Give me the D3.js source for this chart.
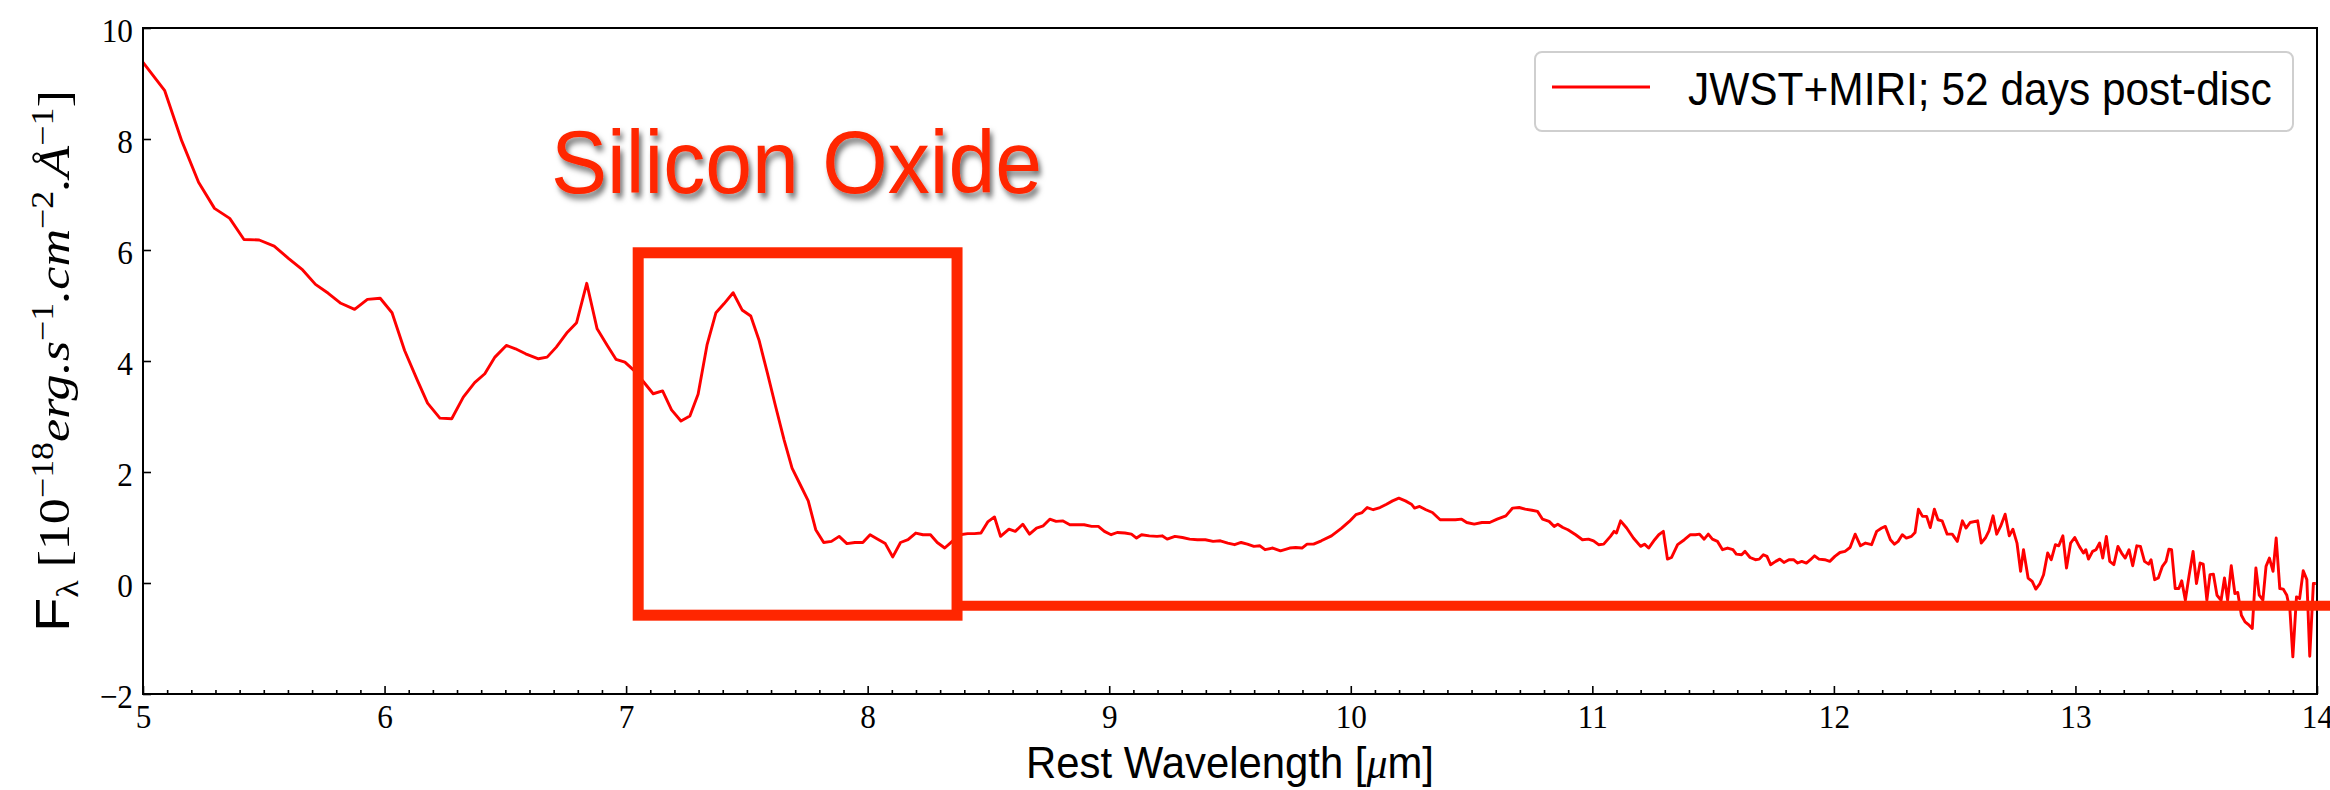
<!DOCTYPE html>
<html>
<head>
<meta charset="utf-8">
<script src="https://cdn.jsdelivr.net/npm/d3@7"></script>
<style>
  html, body { margin: 0; padding: 0; background: #fff; }
  svg { display: block; }
</style>
</head>
<body>
<svg id="chart" width="2330" height="790"></svg>
<script>
// MIRI spectrum, rest wavelength in micron and flux in 1e-18 erg/s/cm^2/A
const wavelength = [
  5.000, 5.090, 5.160, 5.230, 5.296, 5.359, 5.418, 5.481, 5.543, 5.602,
  5.661, 5.714, 5.767, 5.819, 5.876, 5.929, 5.982, 6.031, 6.083, 6.136,
  6.178, 6.229, 6.278, 6.326, 6.373, 6.415, 6.457, 6.504, 6.542, 6.584,
  6.637, 6.673, 6.711, 6.757, 6.795, 6.837, 6.880, 6.922, 6.958, 6.995,
  7.030, 7.071, 7.112, 7.151, 7.188, 7.227, 7.264, 7.298, 7.335, 7.372,
  7.405, 7.443, 7.480, 7.516, 7.550, 7.585, 7.619, 7.654, 7.687, 7.721,
  7.754, 7.785, 7.818, 7.850, 7.882, 7.914, 7.947, 7.980, 8.010, 8.042,
  8.073, 8.104, 8.136, 8.167, 8.199, 8.229, 8.260, 8.288, 8.319, 8.350,
  8.382, 8.414, 8.442, 8.469, 8.497, 8.525, 8.550, 8.585, 8.611, 8.642,
  8.670, 8.699, 8.727, 8.754, 8.780, 8.807, 8.837, 8.864, 8.896, 8.927,
  8.955, 8.980, 9.008, 9.033, 9.065, 9.092, 9.113, 9.134, 9.166, 9.198,
  9.219, 9.240, 9.272, 9.303, 9.333, 9.365, 9.398, 9.430, 9.460, 9.491,
  9.519, 9.546, 9.572, 9.599, 9.624, 9.645, 9.677, 9.709, 9.747, 9.772,
  9.798, 9.819, 9.846, 9.878, 9.920, 9.962, 9.994, 10.021, 10.047, 10.068,
  10.093, 10.121, 10.148, 10.173, 10.199, 10.226, 10.251, 10.264, 10.285, 10.311,
  10.338, 10.370, 10.402, 10.433, 10.459, 10.480, 10.511, 10.543, 10.575, 10.606,
  10.642, 10.670, 10.697, 10.722, 10.750, 10.773, 10.794, 10.821, 10.842, 10.857,
  10.878, 10.899, 10.931, 10.959, 10.984, 11.005, 11.026, 11.047, 11.075, 11.090,
  11.100, 11.117, 11.142, 11.170, 11.200, 11.216, 11.233, 11.258, 11.275, 11.294,
  11.311, 11.328, 11.353, 11.381, 11.406, 11.427, 11.444, 11.463, 11.480, 11.497,
  11.518, 11.539, 11.560, 11.582, 11.596, 11.618, 11.632, 11.653, 11.675, 11.691,
  11.708, 11.723, 11.738, 11.759, 11.776, 11.793, 11.814, 11.833, 11.850, 11.867,
  11.886, 11.903, 11.920, 11.938, 11.962, 11.983, 12.004, 12.025, 12.046, 12.067,
  12.088, 12.110, 12.131, 12.156, 12.177, 12.198, 12.213, 12.234, 12.251, 12.266,
  12.283, 12.300, 12.321, 12.336, 12.350, 12.367, 12.384, 12.399, 12.416, 12.431,
  12.448, 12.469, 12.490, 12.511, 12.532, 12.547, 12.564, 12.595, 12.610, 12.627,
  12.642, 12.659, 12.674, 12.690, 12.709, 12.726, 12.741, 12.758, 12.773, 12.785,
  12.804, 12.821, 12.836, 12.853, 12.868, 12.885, 12.900, 12.917, 12.931, 12.948,
  12.963, 12.980, 12.997, 13.016, 13.033, 13.043, 13.054, 13.071, 13.085, 13.100,
  13.113, 13.128, 13.142, 13.159, 13.176, 13.191, 13.206, 13.222, 13.237, 13.254,
  13.269, 13.286, 13.303, 13.313, 13.328, 13.343, 13.360, 13.375, 13.387, 13.398,
  13.413, 13.428, 13.440, 13.455, 13.470, 13.487, 13.501, 13.516, 13.529, 13.544,
  13.557, 13.571, 13.586, 13.603, 13.617, 13.630, 13.645, 13.660, 13.672, 13.687,
  13.702, 13.719, 13.732, 13.747, 13.761, 13.776, 13.789, 13.803, 13.818, 13.831,
  13.846, 13.860, 13.875, 13.888, 13.900, 13.915, 13.928, 13.943, 13.958, 13.970,
  13.985, 13.995
];

const flux = [
  9.38, 8.87, 7.97, 7.22, 6.75, 6.57, 6.19, 6.18, 6.07, 5.85,
  5.64, 5.38, 5.22, 5.04, 4.93, 5.11, 5.13, 4.87, 4.19, 3.65,
  3.24, 2.97, 2.96, 3.35, 3.61, 3.77, 4.07, 4.28, 4.22, 4.13,
  4.04, 4.07, 4.25, 4.52, 4.69, 5.40, 4.58, 4.28, 4.03, 3.98,
  3.84, 3.63, 3.41, 3.46, 3.12, 2.92, 3.01, 3.40, 4.29, 4.87,
  5.03, 5.23, 4.92, 4.81, 4.38, 3.78, 3.18, 2.58, 2.07, 1.77,
  1.48, 0.96, 0.73, 0.75, 0.84, 0.71, 0.73, 0.73, 0.87, 0.79,
  0.71, 0.47, 0.73, 0.78, 0.90, 0.87, 0.87, 0.73, 0.63, 0.75,
  0.87, 0.89, 0.89, 0.90, 1.10, 1.19, 0.84, 0.97, 0.93, 1.06,
  0.88, 0.99, 1.03, 1.15, 1.11, 1.12, 1.05, 1.05, 1.05, 1.02,
  1.02, 0.93, 0.87, 0.91, 0.90, 0.88, 0.81, 0.87, 0.85, 0.84,
  0.85, 0.79, 0.84, 0.82, 0.79, 0.78, 0.78, 0.75, 0.76, 0.72,
  0.69, 0.73, 0.70, 0.66, 0.67, 0.60, 0.63, 0.58, 0.63, 0.64,
  0.63, 0.70, 0.70, 0.76, 0.85, 0.99, 1.11, 1.23, 1.27, 1.36,
  1.32, 1.36, 1.42, 1.48, 1.53, 1.48, 1.42, 1.35, 1.38, 1.32,
  1.27, 1.14, 1.14, 1.14, 1.15, 1.09, 1.06, 1.09, 1.09, 1.15,
  1.21, 1.35, 1.36, 1.33, 1.31, 1.29, 1.15, 1.11, 1.02, 1.06,
  1.00, 0.96, 0.87, 0.78, 0.79, 0.76, 0.69, 0.70, 0.84, 0.93,
  0.90, 1.12, 0.99, 0.81, 0.66, 0.70, 0.63, 0.78, 0.87, 0.93,
  0.43, 0.46, 0.69, 0.78, 0.87, 0.87, 0.88, 0.79, 0.88, 0.79,
  0.75, 0.60, 0.63, 0.60, 0.52, 0.51, 0.57, 0.46, 0.42, 0.43,
  0.51, 0.48, 0.33, 0.39, 0.43, 0.37, 0.42, 0.42, 0.36, 0.39,
  0.36, 0.42, 0.49, 0.43, 0.42, 0.39, 0.48, 0.55, 0.57, 0.64,
  0.88, 0.67, 0.72, 0.69, 0.93, 0.99, 1.02, 0.78, 0.70, 0.75,
  0.87, 0.81, 0.84, 0.91, 1.33, 1.20, 1.20, 1.00, 1.33, 1.14,
  1.12, 0.88, 0.88, 0.75, 1.12, 0.99, 1.09, 1.12, 0.72, 0.81,
  0.94, 1.21, 0.88, 1.02, 1.24, 0.85, 0.97, 0.72, 0.21, 0.60,
  0.09, 0.03, -0.11, -0.01, 0.15, 0.54, 0.42, 0.69, 0.67, 0.85,
  0.27, 0.72, 0.82, 0.66, 0.54, 0.60, 0.43, 0.57, 0.60, 0.72,
  0.45, 0.84, 0.39, 0.33, 0.66, 0.54, 0.45, 0.60, 0.31, 0.67,
  0.66, 0.39, 0.34, 0.42, 0.06, 0.09, 0.30, 0.39, 0.61, 0.60,
  -0.10, -0.10, 0.04, -0.31, 0.12, 0.57, -0.01, 0.36, 0.34, -0.31,
  0.15, 0.16, -0.22, -0.31, 0.09, -0.31, 0.31, -0.19, -0.17, -0.58,
  -0.70, -0.76, -0.82, 0.27, -0.22, -0.31, 0.30, 0.45, 0.21, 0.81,
  -0.10, -0.11, -0.22, -0.49, -1.33, -0.25, -0.28, 0.22, 0.06, -1.32,
  -0.01, -0.01
];

const xTickValues = [5, 6, 7, 8, 9, 10, 11, 12, 13, 14];
const yTickValues = [-2, 0, 2, 4, 6, 8, 10];
const seriesLabel = "JWST+MIRI; 52 days post-disc";
const featureLabel = "Silicon Oxide";
// highlighted feature region (wavelength, flux) and the baseline marker level
const featureBoxWave = [7.05, 8.37];
const featureBoxFlux = [-0.58, 5.95];
const calloutFlux = -0.41;

const W = 2330, H = 790;
const plot = { left: 143, right: 2317, top: 28, bottom: 694 };
const SERIF = "'Liberation Serif', 'DejaVu Serif', serif";
const SANS = "'Liberation Sans', Arial, sans-serif";
const LINE_RED = "#ff0000";
const NOTE_RED = "#ff2600";
const SQUEEZE = 0.92;

const svg = d3.select("#chart");

const x = d3.scaleLinear().domain([5, 14]).range([plot.left, plot.right]);
const y = d3.scaleLinear().domain([-2, 10]).range([plot.bottom, plot.top]);

// drop shadow for the feature label
const defs = svg.append("defs");
const shadow = defs.append("filter").attr("id", "soft-shadow")
  .attr("x", "-10%").attr("y", "-20%").attr("width", "130%").attr("height", "150%");
shadow.append("feDropShadow")
  .attr("dx", 3).attr("dy", 5).attr("stdDeviation", 3)
  .attr("flood-color", "#000").attr("flood-opacity", 0.55);

// spectrum
const idx = d3.range(wavelength.length);
const line = d3.line()
  .x(i => x(wavelength[i]))
  .y(i => y(flux[i]));

svg.append("path")
  .datum(idx)
  .attr("d", line)
  .attr("fill", "none")
  .attr("stroke", LINE_RED)
  .attr("stroke-width", 2.9)
  .attr("stroke-linejoin", "round");

// axes: ticks point into the plot
const xMajor = svg.append("g")
  .attr("transform", `translate(0,${plot.bottom})`)
  .call(d3.axisBottom(x).tickValues(xTickValues).tickSize(-8).tickFormat(d3.format("d")));

const minorValues = d3.range(50, 141).filter(v => v % 10 !== 0).map(v => v / 10);
const xMinor = svg.append("g")
  .attr("transform", `translate(0,${plot.bottom})`)
  .call(d3.axisBottom(x).tickValues(minorValues).tickSize(-4).tickFormat(""));

const yMajor = svg.append("g")
  .attr("transform", `translate(${plot.left},0)`)
  .call(d3.axisLeft(y).tickValues(yTickValues).tickSize(-8).tickFormat(d3.format("d")));

[xMajor, xMinor, yMajor].forEach(g => {
  g.select(".domain").remove();
  g.selectAll(".tick line").attr("stroke", "#000").attr("stroke-width", 1.6);
});

xMajor.selectAll(".tick text")
  .attr("y", 0).attr("dy", 34)
  .attr("transform", `scale(${SQUEEZE},1)`)
  .attr("fill", "#000")
  .style("font-family", SERIF).style("font-size", "34px");

yMajor.selectAll(".tick text")
  .attr("x", -10 / SQUEEZE).attr("dy", 13)
  .attr("transform", `scale(${SQUEEZE},1)`)
  .attr("fill", "#000")
  .style("font-family", SERIF).style("font-size", "34px");

// frame
svg.append("rect")
  .attr("x", plot.left).attr("y", plot.top)
  .attr("width", plot.right - plot.left).attr("height", plot.bottom - plot.top)
  .attr("fill", "none").attr("stroke", "#000").attr("stroke-width", 2);

// fit a text element to a given run length by squeezing horizontally
function fitRun(textSel, target) {
  const w = textSel.node().getComputedTextLength();
  textSel.attr("transform", `scale(${target / w},1)`);
}

// x label
const xl = svg.append("g").attr("transform", `translate(${(plot.left + plot.right) / 2},778)`)
  .append("text")
  .attr("text-anchor", "middle")
  .style("font-family", SANS).style("font-size", "45px").attr("fill", "#000");
xl.append("tspan").text("Rest Wavelength [");
xl.append("tspan").style("font-family", SERIF).style("font-style", "italic").text("μ");
xl.append("tspan").text("m]");
fitRun(xl, 408);

// y label
const yl = svg.append("g").attr("transform", `translate(69,${(plot.top + plot.bottom) / 2}) rotate(-90)`)
  .append("text")
  .attr("text-anchor", "middle")
  .style("font-family", SERIF).style("font-size", "45px").attr("fill", "#000");
const sup = 16, sub = 9;
yl.append("tspan").style("font-family", SANS).style("font-size", "48px").text("F");
yl.append("tspan").style("font-size", "31px").attr("dy", sub).text("λ");
yl.append("tspan").attr("dy", -sub).attr("dx", 11).text("[10");
yl.append("tspan").style("font-size", "31px").attr("dy", -sup).text("−18");
yl.append("tspan").style("font-style", "italic").attr("dy", sup).text("erg.s");
yl.append("tspan").style("font-size", "31px").attr("dy", -sup).text("−1");
yl.append("tspan").style("font-style", "italic").attr("dy", sup).text(".cm");
yl.append("tspan").style("font-size", "31px").attr("dy", -sup).text("−2");
yl.append("tspan").style("font-style", "italic").attr("dy", sup).text(".Å");
yl.append("tspan").style("font-size", "31px").attr("dy", -sup).text("−1");
yl.append("tspan").attr("dy", sup).text("]");
fitRun(yl, 529);

// legend
const legend = svg.append("g");
legend.append("rect")
  .attr("x", 1535).attr("y", 52).attr("width", 758).attr("height", 79)
  .attr("rx", 7).attr("ry", 7)
  .attr("fill", "#fff").attr("fill-opacity", 0.8)
  .attr("stroke", "#cfcfcf").attr("stroke-width", 2);
legend.append("line")
  .attr("x1", 1552).attr("x2", 1650).attr("y1", 87).attr("y2", 87)
  .attr("stroke", LINE_RED).attr("stroke-width", 2.9);
const lt = legend.append("g").attr("transform", "translate(1688,105)")
  .append("text")
  .style("font-family", SANS).style("font-size", "47px").attr("fill", "#000")
  .text(seriesLabel);
fitRun(lt, 584);

// highlighted feature: box, baseline marker, and label
svg.append("rect")
  .attr("x", x(featureBoxWave[0])).attr("y", y(featureBoxFlux[1]))
  .attr("width", x(featureBoxWave[1]) - x(featureBoxWave[0]))
  .attr("height", y(featureBoxFlux[0]) - y(featureBoxFlux[1]))
  .attr("fill", "none").attr("stroke", NOTE_RED).attr("stroke-width", 11);

svg.append("line")
  .attr("x1", x(featureBoxWave[1])).attr("x2", W)
  .attr("y1", y(calloutFlux)).attr("y2", y(calloutFlux))
  .attr("stroke", NOTE_RED).attr("stroke-width", 10);

const ft = svg.append("g").attr("transform", "translate(551,193)")
  .append("text")
  .style("font-family", SANS).style("font-size", "89px")
  .attr("fill", NOTE_RED)
  .attr("filter", "url(#soft-shadow)")
  .text(featureLabel);
fitRun(ft, 491);
</script>
</body>
</html>
